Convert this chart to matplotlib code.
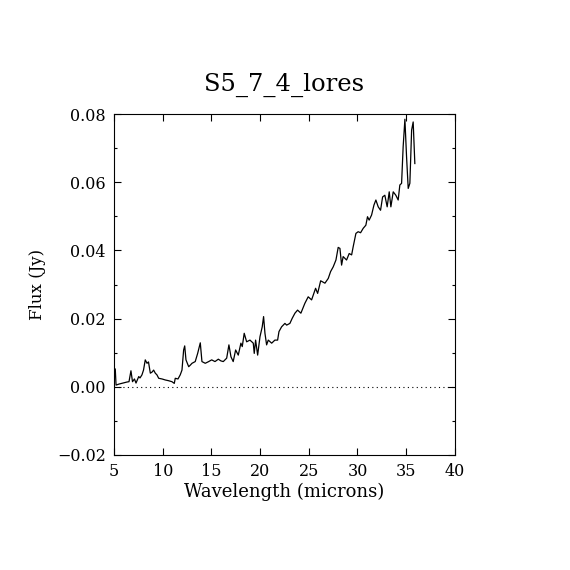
import matplotlib
matplotlib.use("Agg")
import matplotlib.pyplot as plt
from matplotlib.ticker import MultipleLocator, FuncFormatter

# spectrum
wavelength = [5.13, 5.21, 5.51, 5.92, 6.33, 6.54, 6.74, 6.90, 7.10, 7.26,
              7.54, 7.67, 7.87, 8.03, 8.21, 8.39, 8.54, 8.73, 8.90, 9.07,
              9.24, 9.41, 9.59, 9.93, 10.27, 10.59, 10.95, 11.19, 11.29, 11.57,
              11.80, 11.98, 12.15, 12.26, 12.39, 12.67, 12.85, 13.01, 13.34, 13.59,
              13.86, 14.03, 14.37, 14.72, 15.03, 15.37, 15.71, 15.98, 16.22, 16.57,
              16.80, 17.01, 17.24, 17.49, 17.76, 18.03, 18.17, 18.37, 18.62, 18.96,
              19.30, 19.40, 19.54, 19.75, 19.99, 20.22, 20.36, 20.50, 20.67, 20.84,
              21.19, 21.52, 21.80, 21.94, 22.21, 22.55, 22.73, 23.06, 23.30, 23.58,
              23.85, 24.19, 24.53, 24.60, 24.94, 25.29, 25.46, 25.70, 25.91, 26.22,
              26.66, 27.00, 27.24, 27.51, 27.79, 28.02, 28.20, 28.37, 28.53, 28.88,
              29.15, 29.40, 29.56, 29.84, 30.07, 30.32, 30.59, 30.86, 31.03, 31.20,
              31.45, 31.69, 31.89, 32.13, 32.37, 32.58, 32.81, 33.05, 33.26, 33.43,
              33.67, 33.94, 34.18, 34.35, 34.53, 34.69, 34.87, 35.04, 35.21, 35.38,
              35.56, 35.72, 35.89]
flux = [0.0052, 0.0005, 0.0008, 0.0011, 0.0014, 0.0015, 0.0047, 0.0015, 0.0023, 0.0011,
        0.0030, 0.0026, 0.0035, 0.0049, 0.0079, 0.0069, 0.0073, 0.0040, 0.0043, 0.0049,
        0.0040, 0.0035, 0.0025, 0.0023, 0.0020, 0.0018, 0.0015, 0.0010, 0.0025, 0.0023,
        0.0035, 0.0049, 0.0108, 0.0120, 0.0079, 0.0059, 0.0064, 0.0069, 0.0074, 0.0098,
        0.0129, 0.0074, 0.0069, 0.0074, 0.0079, 0.0074, 0.0081, 0.0076, 0.0074, 0.0084,
        0.0123, 0.0088, 0.0074, 0.0108, 0.0093, 0.0128, 0.0118, 0.0157, 0.0132, 0.0137,
        0.0128, 0.0098, 0.0137, 0.0093, 0.0147, 0.0176, 0.0206, 0.0157, 0.0123, 0.0137,
        0.0128, 0.0137, 0.0137, 0.0162, 0.0176, 0.0186, 0.0181, 0.0186, 0.0201, 0.0216,
        0.0225, 0.0216, 0.0240, 0.0245, 0.0264, 0.0255, 0.0269, 0.0289, 0.0274, 0.0311,
        0.0304, 0.0318, 0.0338, 0.0352, 0.0372, 0.0409, 0.0406, 0.0357, 0.0382, 0.0372,
        0.0391, 0.0387, 0.0411, 0.0450, 0.0455, 0.0452, 0.0465, 0.0474, 0.0499, 0.0489,
        0.0504, 0.0533, 0.0548, 0.0528, 0.0518, 0.0557, 0.0562, 0.0528, 0.0572, 0.0528,
        0.0572, 0.0562, 0.0548, 0.0592, 0.0597, 0.0704, 0.0785, 0.0675, 0.0582, 0.0597,
        0.0753, 0.0777, 0.0655]

title = "S5_7_4_lores"
x_label = "Wavelength (microns)"
y_label = "Flux (Jy)"

plt.rcParams['font.family'] = ['DejaVu Serif']

fig = plt.figure(figsize=(5.7, 5.7), dpi=100)
ax = fig.add_axes([0.2, 0.2018, 0.598, 0.598])

ax.plot(wavelength, flux, color='black', linewidth=0.9)
ax.axhline(0.0, color='black', linestyle=(0, (1, 3)), linewidth=0.8)

ax.set_xlim(5, 40)
ax.set_ylim(-0.02, 0.08)
ax.xaxis.set_major_locator(MultipleLocator(5))
ax.yaxis.set_major_locator(MultipleLocator(0.02))
ax.yaxis.set_minor_locator(MultipleLocator(0.01))
# real minus sign like the original
ax.yaxis.set_major_formatter(FuncFormatter(lambda v, p: f"{v:.2f}".replace("-", "\u2212")))

ax.tick_params(which='both', direction='in', top=True, right=True,
               labelsize=11.5, width=0.8, pad=6)
ax.tick_params(which='major', length=5)
ax.tick_params(which='minor', length=2.5)
for s in ax.spines.values():
    s.set_linewidth(0.8)

ax.set_title(title, fontsize=17.5, pad=17)
ax.set_xlabel(x_label, fontsize=13, labelpad=2)
ax.set_ylabel(y_label, fontsize=12, labelpad=8)

fig.savefig("out.png", dpi=100)
